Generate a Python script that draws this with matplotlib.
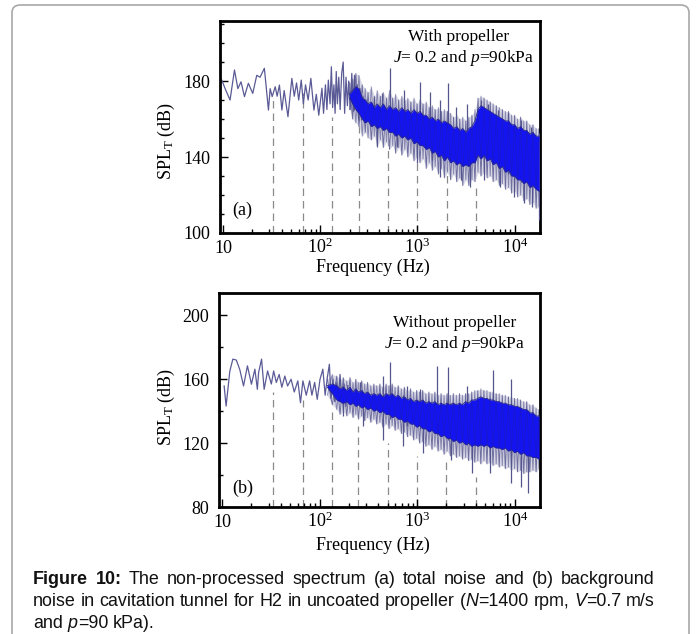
import matplotlib
matplotlib.use('Agg')
import matplotlib.pyplot as plt
import matplotlib.transforms as mtrans
from matplotlib.patches import FancyBboxPatch
from matplotlib.ticker import FixedLocator, NullFormatter, MultipleLocator

plt.rcParams['font.family'] = 'Liberation Serif'
plt.rcParams['mathtext.fontset'] = 'custom'
plt.rcParams['mathtext.rm'] = 'Liberation Serif'
plt.rcParams['mathtext.it'] = 'Liberation Serif:italic'

W, H = 696, 634

# ---- (a) total noise, with propeller ----
lf_freq_a = [9.7, 10.5, 11.8, 13.1, 14.2, 15.3, 16.6, 18.2, 20.2, 22.2,
             24.0, 26.6, 29.3, 30.5, 32.0, 34.4, 36.0, 38.0, 40.3, 42.5,
             46.5, 51.0, 54.0, 57.0, 60.0, 63.7, 67.0, 70.5, 75.0, 80.0,
             86.0, 91.0, 96.5, 104, 108, 113, 117, 121, 126, 130,
             134, 138, 142, 146, 150, 155, 160, 166, 172, 178,
             184, 190, 196, 203, 211, 218, 225, 232, 240, 248,
             256, 265, 275, 285, 295]
lf_spl_a = [180.5, 176, 170, 185.8, 176, 179.6, 171.8, 178.8, 173.5, 183,
            182, 186.7, 164.7, 176, 171.8, 177, 172, 177.9, 164.7, 175,
            161.2, 181.4, 172, 179, 170, 180.5, 168, 178, 170, 181.4,
            164.7, 173, 162, 176.2, 163, 178, 165, 180.5, 168, 187.5,
            166, 178, 163, 185, 168, 182, 165, 184, 190, 163,
            182, 167, 180, 165, 184, 164, 183, 166, 178, 160,
            176, 162, 172, 158, 170]

# dense part of the spectrum: bright core band and the spread of the spikes
band_freq_a = [200, 215, 232, 250, 270, 290, 310, 335, 360, 385, 415, 445, 480,
               515, 555, 595, 640, 690, 740, 795, 855, 920, 990,
               1060, 1140, 1230, 1320, 1420, 1520, 1640, 1760, 1890, 2030,
               2190, 2350, 2530, 2720, 2920, 3140, 3370, 3630, 3900, 4190,
               4500, 4840, 5200, 5600, 6000, 6470, 6950, 7470, 8030, 8640,
               9280, 9980, 10700, 11500, 12400, 13300, 14300, 15400, 16600, 17800]
core_hi_a = [173, 175, 177, 176, 171, 170, 168, 169, 166, 168, 166, 168, 165,
             167, 165, 166, 164, 166, 164, 165, 163, 165, 163,
             164, 162, 162, 160, 161, 159, 160, 158, 159, 158,
             157, 155, 156, 154, 155, 153, 155, 156, 159, 165,
             167, 166, 165, 164, 163, 162, 161, 160, 159, 159,
             157, 157, 155, 156, 154, 154, 152, 153, 151, 151]
core_lo_a = [171, 168, 165, 163, 160, 158, 159, 156, 157, 155, 156, 154, 155,
             153, 153, 151, 152, 150, 151, 149, 150, 147, 148,
             146, 146, 144, 145, 142, 143, 140, 141, 138, 140,
             137, 138, 136, 137, 135, 136, 135, 137, 137, 141,
             139, 141, 138, 139, 136, 137, 134, 135, 132, 133,
             130, 130, 128, 128, 126, 127, 124, 125, 123, 122]
outer_hi_a = [179, 181, 184, 183, 178, 176, 174, 177, 172, 175, 172, 174, 171,
              175, 171, 173, 170, 172, 170, 171, 169, 171, 168,
              170, 168, 169, 166, 167, 165, 166, 164, 165, 164,
              163, 161, 162, 160, 161, 159, 161, 162, 165, 171,
              172, 171, 170, 169, 168, 167, 166, 165, 164, 164,
              162, 162, 160, 161, 159, 159, 157, 157, 155, 155]
outer_lo_a = [165, 160, 158, 156, 151, 153, 150, 149, 151, 146, 149, 145, 148,
              144, 146, 142, 145, 141, 144, 140, 142, 138, 140,
              137, 139, 134, 137, 133, 135, 131, 134, 129, 132,
              128, 131, 127, 129, 125, 128, 125, 128, 127, 132,
              130, 132, 129, 130, 127, 128, 125, 126, 123, 124,
              121, 122, 119, 120, 117, 118, 115, 116, 113, 114]

# prominent single spikes (top and bottom of each stroke)
spike_freq_a = [220, 260, 355, 385, 434, 525, 615, 720, 990, 1050,
                1360, 1410, 1720, 2060, 2460, 2770, 3250, 3500, 4500, 4800,
                5270, 6660, 7100, 8450, 9800, 11500, 12400, 14600, 15100, 17600,
                17700]
spike_top_a = [180.5, 172, 171.7, 165, 173.5, 186.7, 164, 175.3, 162, 179.6,
               174.4, 158, 170, 178.8, 166.5, 155, 168, 156, 170, 164,
               168, 164.7, 160, 163, 154, 159.5, 153, 156, 152, 152.6,
               150]
spike_bot_a = [165, 159.5, 158, 145.4, 156, 154, 145.4, 151, 136.7, 149,
               145, 138.4, 129.6, 139, 136, 128, 137, 124.4, 141, 128,
               140, 135, 124.4, 131, 119, 127, 115.8, 124, 113.9, 123,
               106.8]

# ---- (b) background noise, without propeller ----
lf_freq_b = [10.5, 11.0, 12.0, 12.9, 14.0, 15.2, 16.6, 18.2, 20.0, 21.7,
             23.0, 23.7, 25.4, 27.0, 29.3, 32.0, 33.8, 36.0, 38.5, 41.0,
             44.0, 47.0, 51.0, 55.0, 59.8, 63.7, 67.4, 73.0, 79.0, 83.4,
             89.0, 94.6, 101, 108, 114, 120, 126, 131, 137, 143,
             148, 155, 162, 170, 178, 186, 195]
lf_spl_b = [155.8, 143.2, 165, 172.6, 172, 166, 155.8, 168.4, 156.9, 166.3,
            153.7, 164.2, 172.6, 153.7, 165.2, 157, 165.2, 158, 163, 155,
            162, 155.8, 160, 152, 159, 145.3, 159, 150, 159, 150,
            158, 147.4, 160, 166.3, 150, 161, 169.4, 148, 160, 146,
            158, 147, 163, 145, 157, 143, 156]

band_freq_b = [120, 135, 150, 162, 175, 190, 205, 220, 235, 250, 270, 290,
               310, 335, 360, 385, 415, 445, 480, 515, 555, 595,
               640, 690, 740, 795, 855, 920, 990, 1060, 1140, 1230,
               1320, 1420, 1520, 1640, 1760, 1890, 2030, 2190, 2350, 2530,
               2720, 2920, 3140, 3370, 3630, 3900, 4190, 4500, 4840, 5200,
               5600, 6000, 6470, 6950, 7470, 8030, 8640, 9280, 9980, 10700,
               11500, 12400, 13300, 14300, 15400, 16600, 17800]
core_hi_b = [156, 157, 156, 154, 155, 153, 155, 152, 154, 152, 153, 151,
             152, 150, 151, 150, 151, 149, 151, 150, 151, 149,
             150, 148, 149, 147, 148, 146, 147, 146, 147, 145,
             146, 145, 146, 144, 145, 144, 145, 144, 145, 144,
             145, 144, 146, 145, 147, 147, 148, 149, 148, 148,
             147, 147, 146, 146, 145, 145, 144, 144, 143, 143,
             142, 141, 141, 139, 139, 137, 137]
core_lo_b = [155, 151, 147, 146, 145, 146, 144, 145, 143, 144, 142, 143,
             141, 142, 140, 141, 139, 140, 138, 138, 136, 137,
             135, 135, 133, 134, 132, 132, 130, 131, 129, 129,
             127, 128, 126, 126, 124, 125, 123, 123, 121, 122,
             120, 121, 119, 120, 118, 119, 118, 119, 118, 119,
             117, 118, 117, 117, 116, 117, 115, 116, 114, 115,
             113, 114, 112, 112, 111, 111, 110]
outer_hi_b = [160, 163, 162, 160, 161, 159, 161, 158, 160, 158, 159, 157,
              158, 156, 157, 156, 157, 155, 157, 156, 157, 155,
              156, 154, 155, 153, 154, 152, 153, 152, 153, 151,
              152, 151, 152, 150, 151, 150, 151, 150, 151, 150,
              151, 150, 151, 151, 152, 153, 153, 154, 153, 153,
              152, 152, 151, 151, 150, 150, 149, 149, 148, 148,
              147, 146, 146, 144, 144, 142, 141]
outer_lo_b = [150, 144, 141, 138, 140, 137, 139, 136, 138, 135, 137, 134,
              136, 133, 135, 132, 133, 130, 132, 129, 131, 128,
              129, 126, 127, 124, 125, 122, 123, 120, 121, 118,
              119, 116, 118, 115, 116, 113, 115, 112, 113, 111,
              112, 110, 111, 109, 110, 108, 109, 107, 109, 107,
              108, 106, 107, 105, 106, 104, 105, 103, 104, 102,
              103, 101, 102, 102, 103, 102, 104]

spike_freq_b = [174, 258, 280, 450, 525, 720, 785, 1070, 1160, 1590,
                2050, 2200, 3250, 3650, 5600, 6000, 9100, 11600, 13800]
spike_top_b = [150, 158, 152, 162, 170.5, 150, 155.8, 153.7, 147, 168,
               167.4, 145, 155.8, 146, 148, 166, 160, 142, 141]
spike_bot_b = [137, 144, 130.6, 122, 135, 118, 131, 129, 113.8, 125,
               122, 109.6, 119, 101.2, 101, 118, 95, 92.8, 88.6]

# shaft-rate harmonics marked by dashed lines, and where each line stops
harm_freq = [33, 67, 133, 250, 500, 1000, 2000, 4000]
harm_top_a = [171.6, 173.7, 161, 164.7, 162, 143.7, 135, 124]
harm_top_b = [151.8, 147, 141, 130.6, 120, 111.7, 109.6, 99]

xtick_vals = [10, 100, 1000, 10000]
xtick_text = ['10', '$10^{2}$', '$10^{3}$', '$10^{4}$']

LINE = '#5a5a96'
CORE = '#1414f0'
EDGE = '#26268c'
SPIKE = '#55558e'
HALO = '#c6c6dc'


def alternate(first, second):
    return [a if i % 2 == 0 else b for i, (a, b) in enumerate(zip(first, second))]


def draw_panel(ax, lf_f, lf_s, bf, o_hi, c_hi, c_lo, o_lo, sf, st, sb,
               harm_top, ylim, yticks, yminor):
    ax.vlines(harm_freq, ylim[0], harm_top, colors='#8a8a8a', lw=0.9,
              linestyles=(0, (6, 4)), zorder=1)
    ax.plot(lf_f, lf_s, color=LINE, lw=0.9, zorder=2)

    # pale spread of the spikes behind the strokes
    ax.fill_between(bf, o_lo, o_hi, color=HALO, lw=0, alpha=0.7, zorder=1.5)
    # rapid oscillation of the spectrum: alternate between the spike tops
    # and the spike bottoms read at each frequency
    ax.plot(bf, alternate(o_hi, o_lo), color=SPIKE, lw=0.7, alpha=0.8, zorder=2)
    ax.plot(bf, alternate(o_lo, o_hi), color=SPIKE, lw=0.7, alpha=0.6, zorder=2)
    ax.vlines(sf, sb, st, colors=SPIKE, lw=0.9, zorder=3)

    ax.fill_between(bf, c_lo, c_hi, color=CORE, lw=0, zorder=4)
    ax.plot(bf, c_hi, color=EDGE, lw=0.6, zorder=4)
    ax.plot(bf, c_lo, color=EDGE, lw=0.6, zorder=4)
    # darker strands running through the core
    ax.plot(bf, alternate(c_hi, c_lo), color='#1c1caa', lw=0.5, alpha=0.55, zorder=5)

    ax.set_xscale('log')
    ax.set_xlim(9.3, 18200)
    ax.set_ylim(*ylim)
    ax.set_yticks(yticks)
    ax.yaxis.set_minor_locator(MultipleLocator(yminor))
    ax.xaxis.set_major_locator(FixedLocator(xtick_vals))
    ax.xaxis.set_major_formatter(NullFormatter())
    ax.xaxis.set_minor_formatter(NullFormatter())
    ax.tick_params(which='both', direction='in', top=False, right=False,
                   labelsize=13, width=1.0)
    ax.tick_params(which='major', length=6, pad=7)
    ax.tick_params(which='minor', length=3)
    for s in ax.spines.values():
        s.set_linewidth(2.0)

    # decade labels drawn on a shared baseline so the exponents rise above
    tr = ax.get_xaxis_transform() + mtrans.ScaledTranslation(0, -0.20, fig.dpi_scale_trans)
    for v, t in zip(xtick_vals, xtick_text):
        ax.text(v, 0, t, transform=tr, ha='center', va='baseline', fontsize=13)


fig = plt.figure(figsize=(W / 100, H / 100), dpi=100)
fig.patch.set_facecolor('white')

frame = FancyBboxPatch((12 / W, -0.05), (689 - 12) / W, 1 - 5 / H + 0.05,
                       boxstyle='round,pad=0,rounding_size=0.012',
                       transform=fig.transFigure, fill=False,
                       ec='#a8a8a8', lw=1.2)
fig.patches.append(frame)

ax_a = fig.add_axes([220 / W, 1 - 233 / H, 320 / W, 212 / H])
draw_panel(ax_a, lf_freq_a, lf_spl_a, band_freq_a, outer_hi_a, core_hi_a,
           core_lo_a, outer_lo_a, spike_freq_a, spike_top_a, spike_bot_a,
           harm_top_a, (100, 211.6), [100, 140, 180], 10)

ax_b = fig.add_axes([219 / W, 1 - 507 / H, 321 / W, 214 / H])
draw_panel(ax_b, lf_freq_b, lf_spl_b, band_freq_b, outer_hi_b, core_hi_b,
           core_lo_b, outer_lo_b, spike_freq_b, spike_top_b, spike_bot_b,
           harm_top_b, (80, 214), [80, 120, 160, 200], 20)


def fig_xy(x, y):
    return x / W, 1 - y / H


for y_base, y_mid in [(272, 141), (550, 407)]:
    fig.text(*fig_xy(373, y_base), 'Frequency (Hz)', ha='center', va='baseline', fontsize=13)
    fig.text(*fig_xy(166, y_mid), 'SPL$_\\mathrm{T}$ (dB)', rotation=90,
             ha='center', va='center', fontsize=13)

fig.text(*fig_xy(459, 41), 'With propeller', ha='center', va='baseline', fontsize=12.5)
fig.text(*fig_xy(464, 62), '$J$= 0.2 and $p$=90kPa', ha='center', va='baseline', fontsize=12.5)
fig.text(*fig_xy(455, 327), 'Without propeller', ha='center', va='baseline', fontsize=12.5)
fig.text(*fig_xy(455, 348), '$J$= 0.2 and $p$=90kPa', ha='center', va='baseline', fontsize=12.5)
fig.text(*fig_xy(232, 215), '(a)', ha='left', va='baseline', fontsize=13)
fig.text(*fig_xy(232, 493), '(b)', ha='left', va='baseline', fontsize=13)

# caption, set word by word so the first two lines are justified
renderer = fig.canvas.get_renderer()
CAP_SIZE = 12.9
STYLES = {'r': {}, 'i': {'style': 'italic'}, 'b': {'weight': 'bold'}}


def caption_line(text, y, x0, x1, justify, bold_words=0):
    words = []
    for k, w in enumerate(text.split(' ')):
        runs = []
        for j, seg in enumerate(w.split('_')):
            if not seg:
                continue
            key = 'b' if k < bold_words else ('i' if j % 2 else 'r')
            t = fig.text(0, 0, seg, fontsize=CAP_SIZE, family='Liberation Sans',
                         va='baseline', ha='left', color='#111111', **STYLES[key])
            runs.append((t, t.get_window_extent(renderer).width))
        words.append(runs)
    widths = [sum(wd for _, wd in r) for r in words]
    gap = CAP_SIZE * 0.278 * 100 / 72
    if justify:
        gap = (x1 - x0 - sum(widths)) / (len(words) - 1)
    x = x0
    for runs, wd in zip(words, widths):
        xx = x
        for t, tw in runs:
            t.set_position(fig_xy(xx, y))
            xx += tw
        x += wd + gap


caption_line('Figure 10: The non-processed spectrum (a) total noise and (b) background',
             584, 33, 655, True, bold_words=2)
caption_line('noise in cavitation tunnel for H2 in uncoated propeller (_N_=1400 rpm, _V_=0.7 m/s',
             606, 33, 655, True)
caption_line('and _p_=90 kPa).', 628, 33, 655, False)

fig.savefig('out.png', dpi=100, facecolor='white')
